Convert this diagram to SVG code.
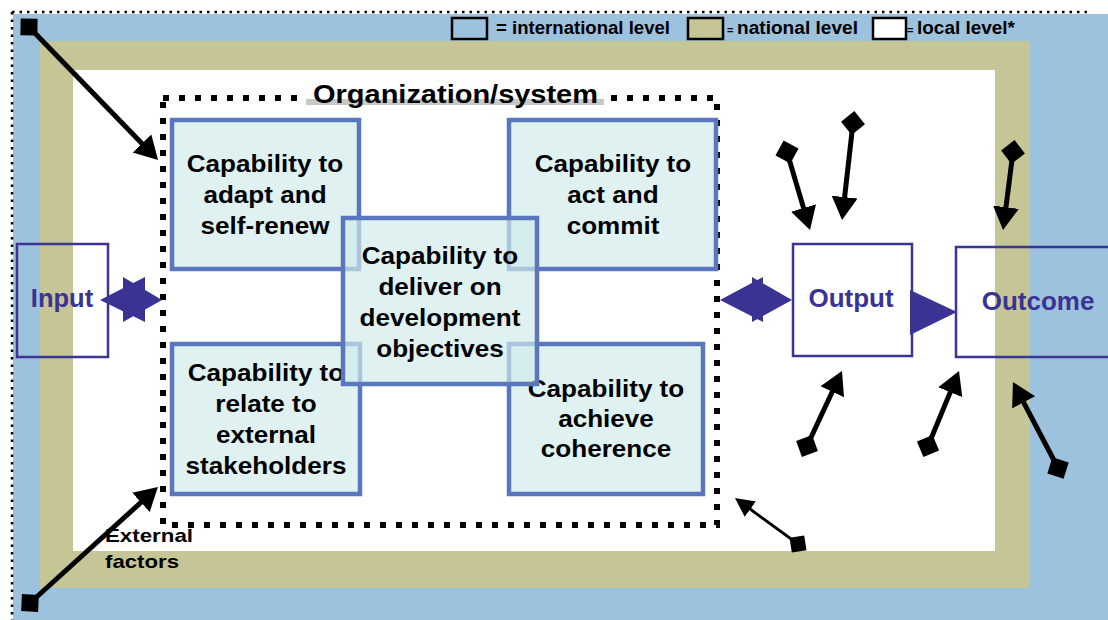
<svg xmlns="http://www.w3.org/2000/svg" width="1108" height="620" viewBox="0 0 1108 620">
<style>
.t{font-family:"Liberation Sans",Arial,sans-serif;font-weight:bold;fill:#000}
.cap{font-size:23.5px;text-anchor:middle}
.pt{font-family:"Liberation Sans",Arial,sans-serif;font-weight:bold;fill:#3b3393;text-anchor:middle}
.box{fill:#d0eaea;fill-opacity:0.68;stroke:#5a77bd;stroke-width:4.5}
.io{fill:none;stroke:#3b3594;stroke-width:2.5}
.sw{stroke:#000;stroke-width:2.5}
.big{stroke:#000;stroke-width:5;fill:none;marker-start:url(#dia);marker-end:url(#head)}
.thin{stroke:#000;stroke-width:2.8;fill:none;marker-start:url(#diaS);marker-end:url(#headS)}
.purple{fill:#3b3393;fill-rule:nonzero}
</style>
<defs>
<marker id="dia" markerUnits="userSpaceOnUse" markerWidth="26" markerHeight="26" viewBox="-13 -13 26 26" refX="0" refY="0" orient="auto"><path d="M-12,0 L0,-12 L12,0 L0,12 z" fill="#000"/></marker>
<marker id="head" markerUnits="userSpaceOnUse" markerWidth="26" markerHeight="28" viewBox="0 -14 26 28" refX="2" refY="0" orient="auto"><path d="M0,-13 L23,0 L0,13 z" fill="#000"/></marker>
<marker id="diaS" markerUnits="userSpaceOnUse" markerWidth="24" markerHeight="24" viewBox="-12 -12 24 24" refX="0" refY="0" orient="auto"><path d="M-10.5,0 L0,-10.5 L10.5,0 L0,10.5 z" fill="#000"/></marker>
<marker id="headS" markerUnits="userSpaceOnUse" markerWidth="22" markerHeight="22" viewBox="0 -11 22 22" refX="2" refY="0" orient="auto"><path d="M0,-9.5 L19,0 L0,9.5 z" fill="#000"/></marker>
</defs>

<g id="levels">
<rect x="13" y="14" width="1095" height="606" fill="#9dc2de"/>
<rect x="40" y="41" width="990" height="547" fill="#c5c595"/>
<rect x="73" y="70" width="922" height="481" fill="#ffffff"/>
<path d="M12,12 H1090 M12,12 V620" stroke="#000" stroke-width="2.5" stroke-dasharray="2.5 5" fill="none"/>
</g>

<g id="legend">
<rect x="452" y="18" width="35" height="21" fill="#9dc2de" class="sw"/>
<text class="t" x="496" y="34" font-size="18" textLength="174" lengthAdjust="spacingAndGlyphs">= international level</text>
<rect x="688" y="18" width="35" height="21" fill="#c5c595" class="sw"/>
<text class="t" x="727" y="34" font-size="11">=</text>
<text class="t" x="737" y="34" font-size="18" textLength="121" lengthAdjust="spacingAndGlyphs">national level</text>
<rect x="873" y="18" width="33" height="21" fill="#ffffff" class="sw"/>
<text class="t" x="907" y="34" font-size="11">=</text>
<text class="t" x="917" y="34" font-size="18" textLength="98" lengthAdjust="spacingAndGlyphs">local level*</text>
</g>

<g id="organization">
<rect x="163" y="98" width="554" height="427" fill="none" stroke="#000" stroke-width="6" stroke-dasharray="6 10"/>
<rect x="298" y="90" width="312" height="16" fill="#ffffff"/>
<rect x="306" y="99" width="298" height="6" fill="#c8c8c8"/>
<text class="t" x="313" y="103" font-size="26.5" textLength="285" lengthAdjust="spacingAndGlyphs">Organization/system</text>
</g>

<g id="cap-adapt">
<rect class="box" x="172" y="120" width="187" height="149"/>
<g transform="translate(265 0) scale(1.11 1)">
<text class="t cap" x="0" y="172">Capability to</text>
<text class="t cap" x="0" y="203">adapt and</text>
<text class="t cap" x="0" y="234">self-renew</text>
</g>
</g>

<g id="cap-act">
<rect class="box" x="509" y="120" width="207" height="149"/>
<g transform="translate(613 0) scale(1.11 1)">
<text class="t cap" x="0" y="172">Capability to</text>
<text class="t cap" x="0" y="203">act and</text>
<text class="t cap" x="0" y="234">commit</text>
</g>
</g>

<g id="cap-relate">
<rect class="box" x="172" y="344" width="188" height="150"/>
<g transform="translate(266 0) scale(1.11 1)">
<text class="t cap" x="0" y="381">Capability to</text>
<text class="t cap" x="0" y="412">relate to</text>
<text class="t cap" x="0" y="443">external</text>
<text class="t cap" x="0" y="474">stakeholders</text>
</g>
</g>

<g id="cap-coherence">
<rect class="box" x="509" y="344" width="194" height="150"/>
<g transform="translate(606 0) scale(1.11 1)">
<text class="t cap" x="0" y="397">Capability to</text>
<text class="t cap" x="0" y="427">achieve</text>
<text class="t cap" x="0" y="457">coherence</text>
</g>
</g>

<g id="cap-deliver">
<rect class="box" x="343" y="218" width="194" height="166"/>
<g transform="translate(440 0) scale(1.11 1)">
<text class="t cap" x="0" y="264">Capability to</text>
<text class="t cap" x="0" y="295">deliver on</text>
<text class="t cap" x="0" y="326">development</text>
<text class="t cap" x="0" y="357">objectives</text>
</g>
</g>

<g id="connectors">
<path class="purple" d="M100,300 L145,277 L145,322 z M162,300 L123,322 L123,277 z"/>
<path class="purple" d="M720,300 L763,277 L763,322 z M792,300 L752,322 L752,277 z"/>
<path class="purple" d="M910,290 L910,335 L957,312 z"/>
<path class="big" d="M29,27 L143.4,144.9"/>
<path class="big" d="M30,603 L142.4,501.1"/>
<path class="big" d="M787,152 L804.1,209.9"/>
<path class="big" d="M853,123 L844.4,199.1"/>
<path class="big" d="M1013,152 L1005.7,209.2"/>
<path class="big" d="M807,446 L833.1,390"/>
<path class="big" d="M928,446 L951,390.4"/>
<path class="big" d="M1058,468 L1022.7,400.6"/>
<path class="thin" d="M798,544 L748.7,508"/>
</g>

<g id="input">
<rect class="io" x="17" y="244" width="91" height="113"/>
<text class="pt" x="62" y="307" font-size="25.5">Input</text>
</g>

<g id="output">
<rect class="io" x="793" y="244" width="119" height="112" fill="#fff"/>
<text class="pt" x="851" y="307" font-size="26">Output</text>
</g>

<g id="outcome">
<rect class="io" x="956" y="247" width="160" height="110"/>
<text class="pt" x="1038" y="310" font-size="26">Outcome</text>
</g>

<g id="external-factors">
<text class="t" x="105" y="542" font-size="19" textLength="88" lengthAdjust="spacingAndGlyphs">External</text>
<text class="t" x="105" y="568" font-size="19" textLength="74" lengthAdjust="spacingAndGlyphs">factors</text>
</g>
</svg>
